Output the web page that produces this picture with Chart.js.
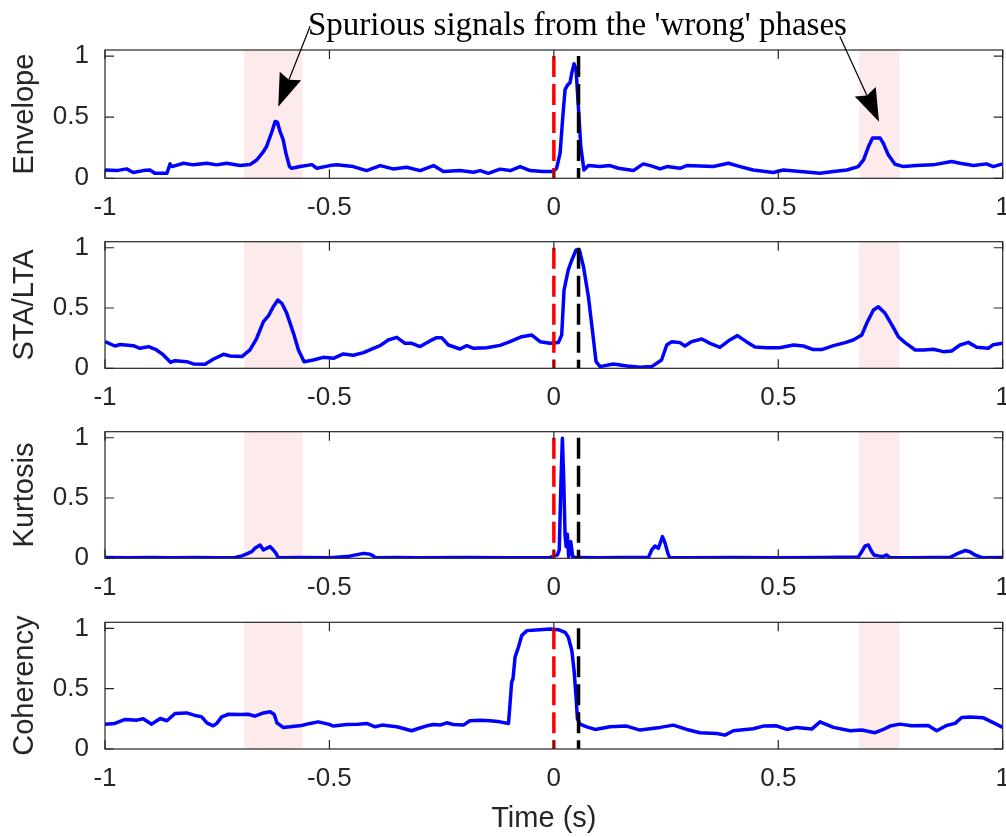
<!DOCTYPE html>
<html><head><meta charset="utf-8">
<script src="https://cdn.jsdelivr.net/npm/chart.js@4.4.1/dist/chart.umd.min.js"></script>
<style>
html,body{margin:0;padding:0;background:#fff;}
#wrap{position:relative;width:1006px;height:837px;overflow:hidden;}
#wrap canvas{position:absolute;left:0;top:0;}
</style>
</head><body>
<div id="wrap">
<canvas id="c0" width="1006" height="837"></canvas>
<canvas id="c1" width="1006" height="837"></canvas>
<canvas id="c2" width="1006" height="837"></canvas>
<canvas id="c3" width="1006" height="837"></canvas>
</div>
<script>
// ---------------- data ----------------
const panelLabels = ['Envelope', 'STA/LTA', 'Kurtosis', 'Coherency'];
const xTicks = [-1, -0.5, 0, 0.5, 1];
const yTicks = [0, 0.5, 1];
const xLabel = 'Time (s)';
const annotationText = "Spurious signals from the 'wrong' phases";
const shadeRanges = [[-0.69, -0.56], [0.68, 0.77]];
const pickRed = 0;
const pickBlack = 0.055;
const pickTop = 1;
// arrow tail / tip in data units of the first panel
const arrowFrom = [[-0.543, 1.244], [0.637, 1.162]];
const arrowTo = [[-0.614, 0.586], [0.7245, 0.463]];

const envT = [-1.000,-0.974,-0.952,-0.937,-0.915,-0.900,-0.889,-0.862,-0.855,-0.851,-0.825,-0.803,-0.773,-0.751,-0.729,-0.699,-0.677,-0.662,-0.647,-0.640,-0.628,-0.621,-0.616,-0.610,-0.603,-0.597,-0.589,-0.584,-0.565,-0.539,-0.528,-0.499,-0.484,-0.447,-0.417,-0.387,-0.358,-0.328,-0.298,-0.268,-0.246,-0.209,-0.179,-0.164,-0.146,-0.120,-0.097,-0.075,-0.053,-0.024,-0.003,0.006,0.014,0.020,0.025,0.031,0.036,0.040,0.045,0.0495,0.0546,0.060,0.067,0.077,0.103,0.125,0.144,0.177,0.199,0.215,0.237,0.252,0.281,0.296,0.355,0.389,0.415,0.444,0.489,0.511,0.549,0.593,0.623,0.653,0.678,0.690,0.701,0.710,0.727,0.734,0.745,0.760,0.779,0.807,0.845,0.886,0.905,0.935,0.964,0.979,1.000];
const envV = [0.068,0.063,0.077,0.047,0.063,0.068,0.041,0.041,0.118,0.096,0.123,0.110,0.123,0.110,0.123,0.104,0.112,0.150,0.219,0.260,0.383,0.465,0.460,0.383,0.315,0.206,0.096,0.082,0.096,0.112,0.082,0.104,0.110,0.096,0.063,0.104,0.077,0.090,0.063,0.104,0.055,0.063,0.049,0.063,0.041,0.075,0.063,0.096,0.063,0.055,0.055,0.082,0.206,0.507,0.726,0.767,0.781,0.863,0.937,0.890,0.589,0.260,0.068,0.104,0.096,0.104,0.082,0.063,0.118,0.104,0.077,0.096,0.082,0.104,0.096,0.123,0.096,0.068,0.047,0.068,0.055,0.041,0.055,0.068,0.096,0.150,0.260,0.329,0.329,0.287,0.192,0.115,0.096,0.104,0.110,0.137,0.123,0.104,0.118,0.096,0.118];

const staT = [-1.000,-0.978,-0.966,-0.937,-0.922,-0.903,-0.885,-0.870,-0.854,-0.844,-0.818,-0.803,-0.777,-0.759,-0.736,-0.721,-0.695,-0.677,-0.662,-0.647,-0.636,-0.625,-0.615,-0.606,-0.595,-0.580,-0.569,-0.5565,-0.536,-0.5135,-0.491,-0.469,-0.447,-0.424,-0.402,-0.387,-0.369,-0.350,-0.3315,-0.3166,-0.298,-0.276,-0.261,-0.250,-0.235,-0.209,-0.194,-0.179,-0.1495,-0.120,-0.0976,-0.0715,-0.049,-0.0307,-0.0085,0.010,0.0175,0.0227,0.032,0.040,0.0495,0.057,0.066,0.077,0.0867,0.094,0.103,0.1326,0.163,0.192,0.218,0.240,0.2515,0.263,0.281,0.292,0.307,0.3295,0.348,0.370,0.392,0.409,0.429,0.448,0.474,0.503,0.534,0.556,0.578,0.597,0.623,0.649,0.667,0.686,0.697,0.712,0.723,0.738,0.753,0.7675,0.7825,0.805,0.824,0.8455,0.868,0.886,0.905,0.9235,0.942,0.968,0.979,1.000];
const staV = [0.221,0.185,0.197,0.188,0.166,0.180,0.152,0.111,0.050,0.063,0.055,0.036,0.033,0.075,0.116,0.102,0.097,0.152,0.249,0.387,0.434,0.511,0.566,0.539,0.456,0.290,0.152,0.055,0.069,0.091,0.083,0.119,0.108,0.130,0.166,0.188,0.235,0.257,0.207,0.207,0.180,0.227,0.254,0.254,0.193,0.160,0.188,0.166,0.171,0.190,0.221,0.262,0.276,0.221,0.207,0.213,0.276,0.649,0.815,0.898,0.981,0.980,0.843,0.594,0.290,0.055,0.014,0.036,0.019,0.008,0.014,0.069,0.193,0.221,0.213,0.185,0.221,0.243,0.207,0.174,0.235,0.271,0.221,0.177,0.171,0.171,0.193,0.185,0.155,0.155,0.188,0.213,0.235,0.276,0.373,0.484,0.511,0.456,0.360,0.262,0.213,0.152,0.152,0.158,0.138,0.144,0.193,0.215,0.174,0.166,0.196,0.207];

const kurT = [-1.000,-0.950,-0.900,-0.850,-0.800,-0.750,-0.710,-0.695,-0.684,-0.673,-0.666,-0.6545,-0.647,-0.640,-0.632,-0.625,-0.619,-0.614,-0.560,-0.500,-0.461,-0.424,-0.4095,-0.402,-0.398,-0.350,-0.300,-0.200,-0.100,-0.010,0.008,0.012,0.016,0.019,0.022,0.025,0.0275,0.030,0.033,0.0377,0.042,0.050,0.100,0.150,0.2106,0.218,0.2255,0.233,0.242,0.248,0.254,0.258,0.300,0.400,0.500,0.600,0.678,0.686,0.6935,0.7007,0.706,0.713,0.723,0.733,0.7417,0.748,0.800,0.8827,0.8976,0.916,0.927,0.938,0.9495,0.957,1.000];
const kurV = [0.006,0.005,0.007,0.005,0.006,0.005,0.007,0.020,0.036,0.055,0.083,0.110,0.069,0.083,0.097,0.069,0.041,0.005,0.006,0.005,0.014,0.041,0.033,0.020,0.005,0.006,0.005,0.006,0.005,0.005,0.028,0.069,0.650,0.995,0.650,0.193,0.097,0.200,0.014,0.138,0.014,0.006,0.005,0.006,0.006,0.069,0.102,0.083,0.180,0.124,0.041,0.006,0.005,0.006,0.005,0.006,0.010,0.055,0.102,0.110,0.069,0.028,0.020,0.014,0.028,0.006,0.005,0.008,0.036,0.064,0.055,0.028,0.012,0.005,0.006];

const cohT = [-1.000,-0.978,-0.955,-0.929,-0.915,-0.896,-0.877,-0.862,-0.844,-0.818,-0.796,-0.7845,-0.773,-0.759,-0.751,-0.740,-0.725,-0.699,-0.681,-0.666,-0.647,-0.632,-0.623,-0.617,-0.603,-0.588,-0.562,-0.543,-0.525,-0.502,-0.491,-0.461,-0.4355,-0.417,-0.398,-0.383,-0.350,-0.335,-0.317,-0.302,-0.283,-0.268,-0.2535,-0.2386,-0.224,-0.2016,-0.187,-0.164,-0.142,-0.120,-0.101,-0.0976,-0.094,-0.091,-0.0864,-0.079,-0.0715,-0.060,-0.031,-0.0085,0.010,0.025,0.0323,0.040,0.045,0.0495,0.0524,0.0584,0.0733,0.092,0.125,0.162,0.192,0.237,0.266,0.296,0.3257,0.363,0.381,0.400,0.444,0.4667,0.496,0.519,0.541,0.5745,0.593,0.623,0.660,0.686,0.7156,0.734,0.749,0.771,0.797,0.834,0.853,0.875,0.894,0.9087,0.927,0.957,0.9755,1.000];
const cohV = [0.206,0.212,0.245,0.239,0.250,0.206,0.253,0.234,0.294,0.299,0.275,0.266,0.217,0.192,0.212,0.266,0.288,0.286,0.288,0.272,0.299,0.308,0.286,0.217,0.179,0.184,0.195,0.212,0.225,0.206,0.190,0.203,0.206,0.212,0.184,0.198,0.184,0.170,0.151,0.170,0.192,0.203,0.198,0.217,0.203,0.198,0.234,0.239,0.234,0.225,0.212,0.376,0.555,0.582,0.761,0.843,0.940,0.981,0.989,0.995,0.989,0.967,0.926,0.816,0.651,0.431,0.253,0.206,0.184,0.162,0.184,0.190,0.157,0.179,0.198,0.162,0.135,0.129,0.115,0.151,0.168,0.190,0.192,0.162,0.179,0.165,0.225,0.179,0.151,0.157,0.135,0.162,0.190,0.206,0.192,0.195,0.151,0.195,0.212,0.261,0.266,0.258,0.225,0.179];

const seriesT = [envT, staT, kurT, cohT];
const seriesV = [envV, staV, kurV, cohV];

// ---------------- layout / style ----------------
const W = 1006, H = 837;
const AREA_LEFT = 105, AREA_RIGHT = 1002.7;
const panelTop = [50, 241.7, 431.7, 622.3];
const panelBottom = [178.3, 368.3, 558.3, 749];
const X_AXIS_H = 50;
const AXIS_COLOR = '#262626';
const SANS = '"Liberation Sans", Arial, Helvetica, sans-serif';
const SERIF = '"Liberation Serif", "Times New Roman", serif';
const TICK_LEN = 9;
const SHADE = '#fdeaea';
const LINE_W = 3.5;

Chart.defaults.font.family = SANS;

const fmt = v => String(Math.round(v * 100) / 100);

const framePlugin = {
  id: 'frame',
  beforeDatasetsDraw(chart) {
    const {ctx, chartArea: a, scales: {x}} = chart;
    ctx.save();
    ctx.fillStyle = SHADE;
    for (const [t0, t1] of shadeRanges) {
      const p0 = x.getPixelForValue(t0), p1 = x.getPixelForValue(t1);
      ctx.fillRect(p0, a.top, p1 - p0, a.bottom - a.top);
    }
    ctx.restore();
  },
  afterDatasetsDraw(chart) {
    const {ctx, chartArea: a, scales: {x, y}} = chart;
    ctx.save();
    ctx.strokeStyle = AXIS_COLOR;
    ctx.lineWidth = 1.2;
    ctx.strokeRect(a.left, a.top, a.right - a.left, a.bottom - a.top);
    ctx.beginPath();
    for (const v of xTicks) {
      const px = x.getPixelForValue(v);
      ctx.moveTo(px, a.bottom); ctx.lineTo(px, a.bottom - TICK_LEN);
      ctx.moveTo(px, a.top); ctx.lineTo(px, a.top + TICK_LEN);
    }
    for (const v of yTicks) {
      const py = y.getPixelForValue(v);
      ctx.moveTo(a.left, py); ctx.lineTo(a.left + TICK_LEN, py);
      ctx.moveTo(a.right, py); ctx.lineTo(a.right - TICK_LEN, py);
    }
    ctx.stroke();
    ctx.restore();
  }
};

const annotationPlugin = {
  id: 'annot',
  afterDraw(chart) {
    const {ctx, scales: {x, y}} = chart;
    ctx.save();
    ctx.fillStyle = '#000';
    ctx.font = '33px ' + SERIF;
    ctx.textAlign = 'left';
    ctx.textBaseline = 'alphabetic';
    ctx.fillText(annotationText, 308, 35);
    ctx.strokeStyle = '#000';
    ctx.lineWidth = 1.2;
    for (let i = 0; i < arrowFrom.length; i++) {
      const x0 = x.getPixelForValue(arrowFrom[i][0]), y0 = y.getPixelForValue(arrowFrom[i][1]);
      const x1 = x.getPixelForValue(arrowTo[i][0]), y1 = y.getPixelForValue(arrowTo[i][1]);
      const dx = x1 - x0, dy = y1 - y0, len = Math.hypot(dx, dy);
      const ux = dx / len, uy = dy / len, nx = -uy, ny = ux;
      const L = 33, HW = 11.5, N = 29;
      const bx = x1 - ux * L, by = y1 - uy * L;
      const mx = x1 - ux * N, my = y1 - uy * N;
      ctx.beginPath();
      ctx.moveTo(x0, y0); ctx.lineTo(mx, my);
      ctx.stroke();
      ctx.beginPath();
      ctx.moveTo(x1, y1);
      ctx.lineTo(bx + nx * HW, by + ny * HW);
      ctx.lineTo(mx, my);
      ctx.lineTo(bx - nx * HW, by - ny * HW);
      ctx.closePath();
      ctx.fill();
    }
    ctx.restore();
  }
};

const xLabelPlugin = {
  id: 'xlabel',
  afterDraw(chart) {
    const {ctx, chartArea: a} = chart;
    ctx.save();
    ctx.fillStyle = AXIS_COLOR;
    ctx.font = '29px ' + SANS;
    ctx.textAlign = 'center';
    ctx.textBaseline = 'alphabetic';
    ctx.fillText(xLabel, (a.left + a.right) / 2 - 10, 827);
    ctx.restore();
  }
};

function pickLine(t, color) {
  return {
    data: [{x: t, y: pickTop}, {x: t, y: 0}],
    borderColor: color, borderWidth: LINE_W, borderDash: [21, 7], borderCapStyle: 'butt',
    pointRadius: 0, fill: false, order: 1
  };
}

function makePanel(i) {
  const ctx = document.getElementById('c' + i).getContext('2d');
  const pts = seriesT[i].map((t, k) => ({x: t, y: seriesV[i][k]}));
  const plugins = [framePlugin];
  if (i === 0) plugins.push(annotationPlugin);
  if (i === 3) plugins.push(xLabelPlugin);
  return new Chart(ctx, {
    type: 'line',
    data: {
      datasets: [
        pickLine(pickRed, '#ff0000'),
        pickLine(pickBlack, '#000000'),
        {data: pts, borderColor: '#0000ff', borderWidth: LINE_W, pointRadius: 0, tension: 0,
         fill: false, borderJoinStyle: 'round', order: 2}
      ]
    },
    options: {
      responsive: false, animation: false, events: [],
      layout: {padding: {left: 0, top: panelTop[i], right: W - AREA_RIGHT, bottom: H - panelBottom[i] - X_AXIS_H}},
      plugins: {legend: {display: false}, tooltip: {enabled: false}, title: {display: false}},
      scales: {
        x: {
          type: 'linear', min: -1, max: 1,
          afterBuildTicks: s => { s.ticks = xTicks.map(v => ({value: v})); },
          ticks: {callback: v => fmt(v), font: {size: 26, family: SANS}, color: AXIS_COLOR,
                  padding: 14, maxRotation: 0, autoSkip: false},
          grid: {display: false, drawTicks: false},
          border: {display: false},
          afterFit: s => { s.height = X_AXIS_H; s.paddingLeft = 0; s.paddingRight = 0; }
        },
        y: {
          type: 'linear', min: 0, max: 1.05,
          afterBuildTicks: s => { s.ticks = yTicks.map(v => ({value: v})); },
          ticks: {callback: v => fmt(v), font: {size: 26, family: SANS}, color: AXIS_COLOR, padding: 16},
          grid: {display: false, drawTicks: false},
          border: {display: false},
          title: {display: true, text: panelLabels[i], color: AXIS_COLOR,
                  font: {size: 29, family: SANS}, padding: {top: 8, bottom: 0}},
          afterFit: s => { s.width = AREA_LEFT; s.paddingTop = 0; s.paddingBottom = 0; }
        }
      }
    },
    plugins: plugins
  });
}

for (let i = 0; i < 4; i++) makePanel(i);
</script>
</body></html>
